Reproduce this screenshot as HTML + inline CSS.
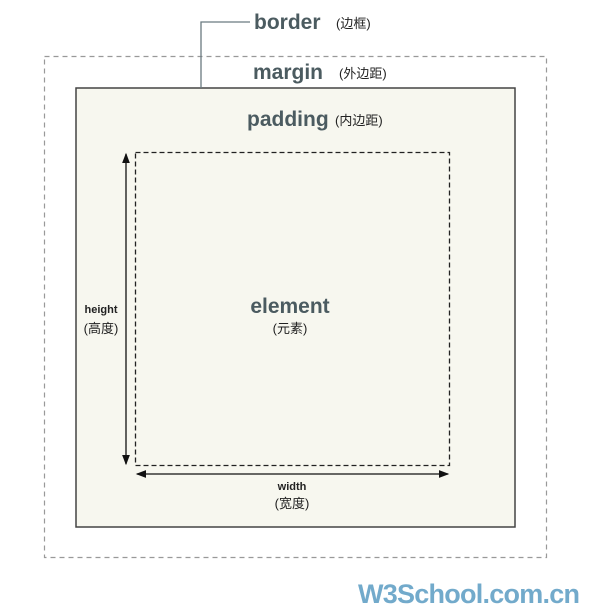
<!DOCTYPE html>
<html><head><meta charset="utf-8"><style>
html,body{margin:0;padding:0;background:#fff;}
svg{display:block;font-family:"Liberation Sans","Noto Sans CJK SC",sans-serif;}
.t{fill:#4b5b60;font-weight:bold;}
.c{fill:#222;font-size:13px;}
</style></head><body>
<svg width="596" height="607" viewBox="0 0 596 607">
<defs><marker id="ah" markerWidth="8" markerHeight="8" refX="7" refY="4" orient="auto-start-reverse"><path d="M0,1 L8,4 L0,7 Z" fill="#111"/></marker></defs>
<rect x="44.5" y="56.5" width="502" height="501" fill="none" stroke="#999" stroke-dasharray="5,4" stroke-width="1.2"/>
<rect x="76" y="88" width="439" height="439" fill="#f7f7ef" stroke="#444" stroke-width="1.5"/>
<rect x="135.5" y="152.5" width="314" height="313" fill="none" stroke="#222" stroke-dasharray="5,3" stroke-width="1.3"/>
<polyline points="201,88 201,22 250,22" fill="none" stroke="#6a7a80" stroke-width="1.3"/>
<line x1="126" y1="464" x2="126" y2="154" stroke="#111" stroke-width="1.3" marker-start="url(#ah)" marker-end="url(#ah)"/>
<line x1="137" y1="474" x2="448" y2="474" stroke="#111" stroke-width="1.3" marker-start="url(#ah)" marker-end="url(#ah)"/>
<text class="t" x="254" y="29" font-size="21">border</text>
<text class="c" x="336" y="28">(边框)</text>
<text class="t" x="253" y="79" font-size="21">margin</text>
<text class="c" x="339" y="78">(外边距)</text>
<text class="t" x="247" y="126" font-size="21">padding</text>
<text class="c" x="335" y="125">(内边距)</text>
<text class="t" x="290" y="313" font-size="21" text-anchor="middle">element</text>
<text class="c" x="290" y="333" text-anchor="middle">(元素)</text>
<text x="101" y="313" font-size="11" fill="#222" font-weight="bold" text-anchor="middle">height</text>
<text class="c" x="101" y="333" text-anchor="middle">(高度)</text>
<text x="292" y="490" font-size="11" fill="#222" font-weight="bold" text-anchor="middle">width</text>
<text class="c" x="292" y="508" text-anchor="middle">(宽度)</text>
<text x="358" y="603" font-size="27" font-weight="bold" fill="#72aacb" textLength="222">W3School.com.cn</text>
</svg>
</body></html>
